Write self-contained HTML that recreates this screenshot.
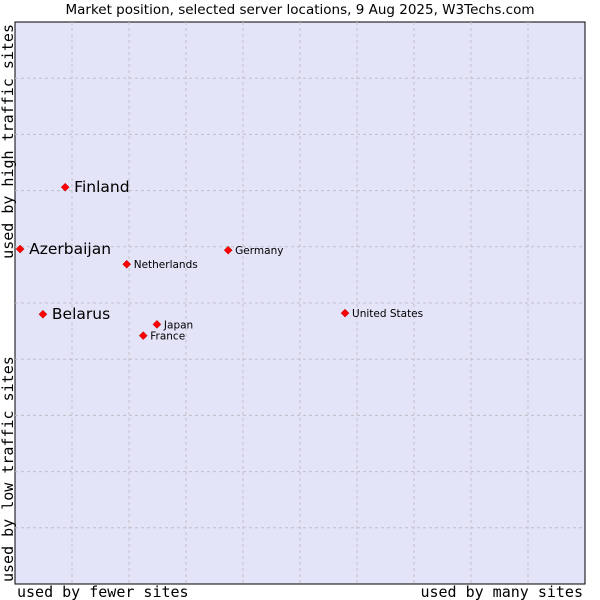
<!DOCTYPE html>
<html><head><meta charset="utf-8"><style>
body{margin:0;background:#fff;}
svg{display:block;}
</style></head><body>
<svg id="chart" width="600" height="600" xmlns="http://www.w3.org/2000/svg">
<text x="300" y="14" text-anchor="middle" font-family="DejaVu Sans, Liberation Sans, sans-serif" font-size="13.5" fill="#000">Market position, selected server locations, 9 Aug 2025, W3Techs.com</text>
<rect x="15" y="22" width="570" height="562" fill="#e3e4f8" stroke="#000" stroke-width="1"/>
<g id="grid"></g>
<g id="points"></g>
<text x="17" y="597" font-family="DejaVu Sans Mono, Liberation Mono, monospace" font-size="15" fill="#000">used by fewer sites</text>
<text x="583" y="597" text-anchor="end" font-family="DejaVu Sans Mono, Liberation Mono, monospace" font-size="15" fill="#000">used by many sites</text>
<text transform="translate(13,582) rotate(-90)" font-family="DejaVu Sans Mono, Liberation Mono, monospace" font-size="15" fill="#000">used by low traffic sites</text>
<text transform="translate(13,24) rotate(-90)" text-anchor="end" font-family="DejaVu Sans Mono, Liberation Mono, monospace" font-size="15" fill="#000">used by high traffic sites</text>
</svg>
<script>
const countries=["Finland","Azerbaijan","Netherlands","Germany","Belarus","Japan","France","United States"];
const xValues=[8.8,0.9,19.6,37.4,4.9,24.9,22.5,57.9];
const yValues=[70.6,59.6,56.9,59.4,48.0,46.2,44.2,48.2];
const bigLabel=[true,true,false,false,true,false,false,false];
const gridTicks=[10,20,30,40,50,60,70,80,90];
const NS="http://www.w3.org/2000/svg";
const L=15,R=585,T=22,B=584;
function sx(v){return L+v/100*(R-L);}
function sy(v){return B-v/100*(B-T);}
const grid=document.getElementById('grid');
gridTicks.forEach(t=>{
  const v=document.createElementNS(NS,'line');
  v.setAttribute('x1',sx(t));v.setAttribute('x2',sx(t));v.setAttribute('y1',T);v.setAttribute('y2',B);
  v.setAttribute('stroke','#c0c0c8');v.setAttribute('stroke-dasharray','3,3');
  
  
  grid.appendChild(v);
  const h=document.createElementNS(NS,'line');
  h.setAttribute('x1',L);h.setAttribute('x2',R);h.setAttribute('y1',sy(t));h.setAttribute('y2',sy(t));
  h.setAttribute('stroke','#c0c0c8');h.setAttribute('stroke-dasharray','3,3');
  
  
  grid.appendChild(h);
});
const pts=document.getElementById('points');
countries.forEach((c,i)=>{
  const x=sx(xValues[i]),y=sy(yValues[i]);
  const m=document.createElementNS(NS,'path');
  m.setAttribute('d',`M${x} ${y-4}L${x+4} ${y}L${x} ${y+4}L${x-4} ${y}Z`);
  m.setAttribute('fill','#ff0000');m.setAttribute('stroke','#b00000');m.setAttribute('stroke-width','0.5');
  
  
  pts.appendChild(m);
  const t=document.createElementNS(NS,'text');
  const big=bigLabel[i];
  t.setAttribute('x',x+(big?9:7));t.setAttribute('y',y+(big?5:4));
  t.setAttribute('font-family','DejaVu Sans, Liberation Sans, sans-serif');
  t.setAttribute('font-size',big?15.5:10.5);
  t.textContent=c;
  
  
  pts.appendChild(t);
});
</script>
</body></html>
